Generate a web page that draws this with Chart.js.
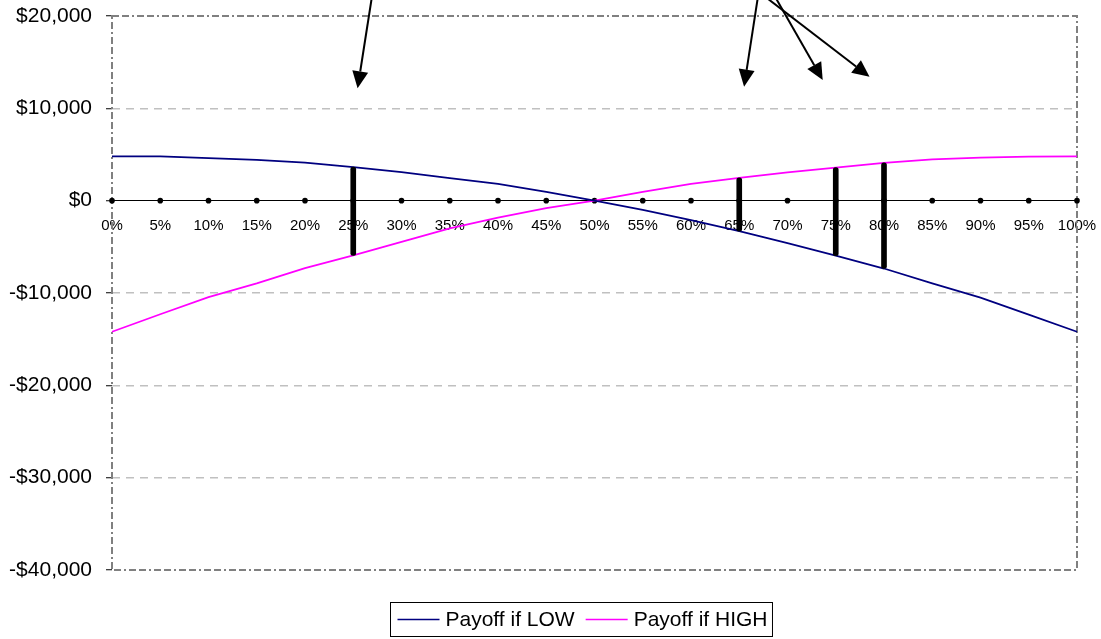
<!DOCTYPE html>
<html>
<head>
<meta charset="utf-8">
<script src="https://cdn.jsdelivr.net/npm/chart.js@4/dist/chart.umd.min.js"></script>
<style>
  html, body { margin: 0; padding: 0; background: #ffffff; }
  #wrap { width: 1101px; height: 639px; position: relative; }
</style>
</head>
<body>
<div id="wrap"><canvas id="chart"></canvas></div>
<script>
// Probability of the HIGH state
const categories = ['0%', '5%', '10%', '15%', '20%', '25%', '30%', '35%', '40%', '45%', '50%',
                    '55%', '60%', '65%', '70%', '75%', '80%', '85%', '90%', '95%', '100%'];

// Expected payoffs ($)
const payoffLow  = [4790, 4790, 4610, 4430, 4130, 3630, 3080, 2450, 1830, 950, 0,
                    -1000, -2100, -3300, -4600, -5950, -7350, -8950, -10500, -12350, -14200];
const payoffHigh = [-14200, -12300, -10450, -8950, -7300, -5930, -4470, -3000, -1830, -800, 0,
                    950, 1820, 2480, 3070, 3580, 4100, 4460, 4650, 4760, 4790];

// Probabilities where the spread between the two payoffs is marked
const markedCategories = ['25%', '65%', '75%', '80%'];

// Value axis ticks
const yTickValues = [20000, 10000, 0, -10000, -20000, -30000, -40000];

// Callout arrows in data units: [category index, value]
const arrowTails = [[5.42, 23200], [13.42, 23200], [13.62, 23200], [13.26, 23200]];
const arrowTips  = [[5.09, 12170], [13.10, 12350], [14.73, 13080], [15.70, 13410]];

const FONT = "'Liberation Sans', Arial, sans-serif";
Chart.defaults.font.family = FONT;
Chart.defaults.color = '#000000';

const spreadBars = categories.map((c, i) =>
  markedCategories.includes(c)
    ? [Math.min(payoffLow[i], payoffHigh[i]), Math.max(payoffLow[i], payoffHigh[i])]
    : null);

const fmtMoney = v => (v < 0 ? '-' : '') + '$' + Math.abs(v).toLocaleString('en-US');

// Keep the plot area governed by layout padding alone
const noOverhang = s => {
  s.paddingTop = 0; s.paddingBottom = 0; s.paddingLeft = 0; s.paddingRight = 0;
};

// Dash-dot frame round the plot area
const plotFrame = {
  id: 'plotFrame',
  beforeDatasetsDraw(chart) {
    const { ctx, chartArea: a } = chart;
    ctx.save();
    ctx.strokeStyle = '#808080';
    ctx.lineWidth = 2;
    ctx.setLineDash([7, 3, 7, 3, 2, 3]);
    ctx.strokeRect(a.left, a.top, a.right - a.left, a.bottom - a.top);
    ctx.restore();
  }
};

// Callout arrows, placed through the scales
const callouts = {
  id: 'callouts',
  afterDraw(chart) {
    const { ctx, scales: { x, y } } = chart;
    ctx.save();
    ctx.strokeStyle = '#000';
    ctx.fillStyle = '#000';
    ctx.lineWidth = 2;
    arrowTips.forEach((tip, i) => {
      const tail = arrowTails[i];
      const x0 = x.getPixelForValue(tail[0]), y0 = y.getPixelForValue(tail[1]);
      const x1 = x.getPixelForValue(tip[0]),  y1 = y.getPixelForValue(tip[1]);
      const ang = Math.atan2(y1 - y0, x1 - x0);
      const len = 17, half = 8;
      const bx = x1 - len * Math.cos(ang), by = y1 - len * Math.sin(ang);
      ctx.beginPath();
      ctx.moveTo(x0, y0);
      ctx.lineTo(bx, by);
      ctx.stroke();
      ctx.beginPath();
      ctx.moveTo(x1, y1);
      ctx.lineTo(bx + half * Math.sin(ang), by - half * Math.cos(ang));
      ctx.lineTo(bx - half * Math.sin(ang), by + half * Math.cos(ang));
      ctx.closePath();
      ctx.fill();
    });
    ctx.restore();
  }
};

// Boxed legend below the plot
const boxedLegend = {
  id: 'boxedLegend',
  afterDraw(chart) {
    const ctx = chart.ctx;
    const items = chart.data.datasets.filter(d => d.inLegend);
    ctx.save();
    ctx.font = '21px ' + FONT;
    const sample = 42, gap = 6, between = 11, padL = 7, padR = 5;
    const widths = items.map(d => ctx.measureText(d.label).width);
    const total = padL + padR + widths.reduce((s, w) => s + sample + gap + w, 0) + between * (items.length - 1);
    const left = Math.round(581 - total / 2) + 0.5;
    const top = 602.5, h = 34, mid = top + h / 2;
    ctx.strokeStyle = '#000';
    ctx.lineWidth = 1;
    ctx.strokeRect(left, top, total, h);
    let cx = left + padL;
    items.forEach((d, i) => {
      ctx.strokeStyle = d.borderColor;
      ctx.lineWidth = 1.5;
      ctx.beginPath();
      ctx.moveTo(cx, mid);
      ctx.lineTo(cx + sample, mid);
      ctx.stroke();
      cx += sample + gap;
      ctx.fillStyle = '#000';
      ctx.textBaseline = 'middle';
      ctx.textAlign = 'left';
      ctx.fillText(d.label, cx, mid + 1);
      cx += widths[i] + between;
    });
    ctx.restore();
  }
};

new Chart(document.getElementById('chart'), {
  type: 'line',
  data: {
    labels: categories,
    datasets: [
      {
        type: 'bar',
        label: 'Spread',
        data: spreadBars,
        backgroundColor: '#000000',
        barThickness: 5,
        borderRadius: 3,
        borderSkipped: false,
        order: 1
      },
      {
        label: 'Payoff if LOW',
        inLegend: true,
        data: payoffLow,
        borderColor: '#000080',
        borderWidth: 1.75,
        pointRadius: 0,
        tension: 0,
        fill: false,
        order: 2
      },
      {
        label: 'Payoff if HIGH',
        inLegend: true,
        data: payoffHigh,
        borderColor: '#FF00FF',
        borderWidth: 1.75,
        pointRadius: 0,
        tension: 0,
        fill: false,
        order: 2
      },
      {
        label: 'Axis points',
        data: categories.map(() => 0),
        showLine: false,
        pointRadius: 2.8,
        pointBackgroundColor: '#000',
        pointBorderWidth: 0,
        order: 3
      }
    ]
  },
  options: {
    responsive: true,
    maintainAspectRatio: false,
    animation: false,
    devicePixelRatio: 1,
    layout: { padding: { left: 0, right: 24, top: 16, bottom: 69 } },
    plugins: {
      legend: { display: false },
      tooltip: { enabled: false }
    },
    scales: {
      x: {
        type: 'category',
        position: { y: 0 },
        offset: false,
        afterFit: s => { noOverhang(s); s.height = 0; },
        grid: { display: false, offset: false },
        border: { display: true, color: '#000000', width: 1 },
        ticks: {
          autoSkip: false,
          maxRotation: 0,
          padding: 8,
          color: '#000',
          font: { size: 15 }
        }
      },
      y: {
        min: -40000,
        max: 20000,
        afterBuildTicks: s => { s.ticks = yTickValues.map(v => ({ value: v })); },
        afterFit: s => { noOverhang(s); s.width = 112; },
        grid: {
          color: c => (c.tick && [20000, 0, -40000].includes(c.tick.value)) ? 'rgba(0,0,0,0)' : '#c0c0c0',
          lineWidth: 1.5,
          tickColor: '#000000',
          tickLength: 6,
          tickWidth: 1
        },
        border: { display: false, dash: [8, 6] },
        ticks: {
          padding: 14,
          color: '#000',
          font: { size: 21 },
          callback: v => fmtMoney(v)
        }
      }
    }
  },
  plugins: [plotFrame, callouts, boxedLegend]
});
</script>
</body>
</html>
